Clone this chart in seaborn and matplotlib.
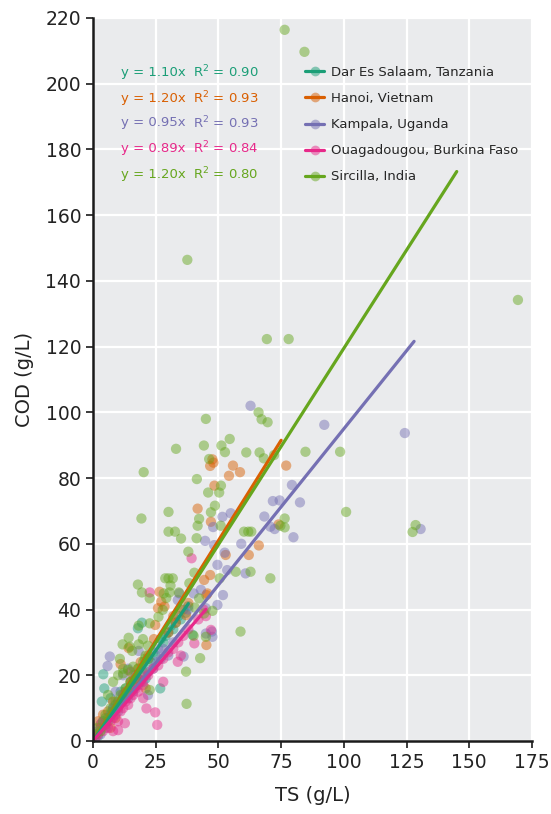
import pandas as pd
import matplotlib.pyplot as plt
import seaborn as sns
from matplotlib.lines import Line2D

# (TS, COD) pairs in g/L
dar = [(1, 2), (2, 1.5), (3, 5), (3.5, 12), (4.1, 20.3), (4.5, 16), (5, 7), (6, 6), (7, 13), (7.5, 9),
       (8, 10), (9, 11), (10, 12), (11, 15), (12, 13), (13, 16), (14, 14), (15, 18), (16, 17), (17, 20),
       (17.9, 34.3), (18, 19), (19.5, 36), (20, 22), (21, 19), (22, 25), (23, 24), (24, 27), (25, 26),
       (26.8, 16), (27, 31), (28, 30), (29, 32), (30, 33), (31, 35), (32, 34), (33, 36), (34, 38),
       (35, 37), (36, 40), (37, 39), (38, 41), (39.7, 32.3)]

hanoi = [(2, 6), (3, 4), (4, 8), (5, 5), (6, 9), (7, 4), (8, 12), (9, 7), (10, 10), (11, 23.4),
         (12, 14), (13, 15), (14.2, 28.3), (15, 18), (16, 17), (18, 22), (19, 24), (20, 21), (21, 16),
         (22, 26), (24.3, 31), (24.8, 35.3), (25.9, 40.4), (26.5, 45.4), (27.2, 42.4), (28.5, 40.9),
         (30, 33), (32, 38), (33, 36), (35, 40), (37.1, 38.3), (38, 42), (41.7, 70.7), (44.3, 49),
         (45.2, 44.4), (45.2, 29.2), (45.6, 44.9), (46.7, 50.5), (47, 66.7), (47.6, 85.7), (46.7, 83.7),
         (48, 84.7), (48.4, 77.7), (52.9, 56.6), (55.8, 83.8), (58.6, 81.8), (54.2, 80.7), (62.1, 56.6),
         (66.1, 59.5), (74, 65.9), (77, 83.8)]

kampala = [(1, 1), (2, 3), (3, 2), (4, 6), (5, 4), (5.8, 22.8), (6.7, 25.7), (7, 8), (8, 10), (9, 15),
           (10, 9), (11, 12), (12, 20), (12, 14), (14, 13), (14, 22), (15, 16), (16, 15), (18, 17),
           (18.2, 27.4), (19, 20), (20, 18), (21.9, 14), (22, 21), (24, 22), (25, 24), (26, 28), (27, 25),
           (28, 28), (30, 26), (32, 30), (33.8, 42.9), (34.4, 44.9), (36.1, 25.7), (38, 40), (40.1, 44.9),
           (43, 46), (44.7, 60.9), (45, 40.4), (45, 32.7), (47.4, 33.3), (47.6, 31.7), (47.9, 65.1),
           (48.3, 59.6), (49.6, 53.6), (49.6, 41.4), (51.6, 68.2), (51.8, 44.4), (52.5, 57.3), (53.5, 52),
           (54.9, 69.3), (59.1, 60), (60.8, 51), (62.8, 102), (68.3, 68.3), (70.7, 65.2), (71.7, 73),
           (72.4, 64.5), (74.4, 73.2), (79.3, 77.9), (79.9, 62), (82.5, 72.6), (92.2, 96.2), (124.3, 93.7),
           (130.6, 64.5)]

ouaga = [(1, 1), (2, 2), (3, 4), (3.4, 5.5), (4, 3), (5, 5), (6, 4), (7, 6), (8, 3), (8, 7), (9, 8),
         (10, 3.3), (10, 6), (11, 9), (12, 10), (12.7, 5.4), (13, 12), (14, 11), (15, 13), (15, 21),
         (16, 14), (17, 16), (18, 15), (18, 19), (19, 18), (20, 17), (20, 13), (21.3, 9.9), (22, 20),
         (22.6, 45.2), (24, 22), (24.8, 8.7), (25.6, 4.9), (26, 23), (28, 25), (28, 18), (30, 27), (32, 28),
         (33.8, 24.1), (34, 30), (35, 26), (36, 32), (38, 34), (39.3, 55.6), (40.4, 29.7), (42, 37),
         (44, 40), (45, 38), (47, 33.8)]

sircilla = [(1, 2), (2, 4), (3, 3), (4, 6), (5, 8), (6, 7), (6, 14), (7, 10), (8, 9), (8, 18), (9, 12),
            (10, 11), (10, 20), (10.7, 25), (11, 14), (11.8, 29.4), (12, 13), (12, 20.6), (12, 22), (13, 16),
            (14, 15), (14, 21.6), (14.2, 31.4), (14.6, 28.7), (15, 18), (15.6, 27.4), (16, 20), (16, 22.6),
            (17, 19), (18, 22), (18.2, 35.1), (18.2, 29.4), (17.9, 47.6), (19.3, 67.7), (19.5, 45.2),
            (19.9, 31), (20, 24), (20.2, 81.8), (20.6, 25), (21, 26), (21.9, 29), (22, 25), (22.6, 43.4),
            (22.6, 35.8), (22.6, 15.5), (26.1, 37.8), (27.8, 39.9), (28.2, 44.9), (28.8, 49.5), (29.2, 43.5),
            (30.1, 49.5), (30.1, 69.7), (30.1, 63.7), (30.5, 45.2), (30.9, 47.3), (31.8, 49.5), (32.7, 63.7),
            (33.1, 88.9), (34.2, 45.2), (35.1, 61.6), (37.3, 11.3), (37.1, 21.1), (37.6, 146.4), (38, 57.6),
            (38.4, 48), (40.1, 32), (40.4, 51.2), (40.6, 40.6), (41.3, 61.7), (41.4, 79.7), (41.7, 65.5),
            (42.3, 67.6), (42.3, 43.4), (42.7, 25.2), (44.2, 89.9), (44.3, 38.8), (45, 98), (45, 31.7),
            (45.9, 75.6), (46.3, 85.8), (47, 69.6), (47.6, 39.6), (48.6, 71.6), (50.3, 75.6), (50.5, 49.5),
            (50.9, 65.5), (51, 77.7), (51.2, 89.9), (52.6, 87.9), (54.5, 91.9), (56.9, 51.5), (58.8, 33.3),
            (60.2, 63.7), (61.1, 87.8), (61.9, 63.7), (63.1, 63.7), (62.8, 51.5), (66, 100), (66.4, 87.8),
            (67.2, 97.9), (68.1, 86), (69.3, 122.3), (69.6, 97), (70.7, 49.5), (72.2, 87), (74.7, 65.5),
            (76.4, 65), (76.4, 67.7), (76.4, 216.4), (78, 122.3), (84.3, 209.7), (84.7, 88), (98.5, 88),
            (100.9, 69.7), (127.4, 63.6), (128.6, 65.7), (169.4, 134.2)]

sites = ["Dar Es Salaam, Tanzania", "Hanoi, Vietnam", "Kampala, Uganda",
         "Ouagadougou, Burkina Faso", "Sircilla, India"]
slope_labels = [1.10, 1.20, 0.95, 0.89, 1.20]
slopes = [1.10, 1.22, 0.95, 0.89, 1.195]
r2 = [0.90, 0.93, 0.93, 0.84, 0.80]
fit_end = [38, 75, 128, 45, 145]

rows = []
for site, pts in zip(sites, [dar, hanoi, kampala, ouaga, sircilla]):
    for ts, cod in pts:
        rows.append((site, ts, cod))
df = pd.DataFrame(rows, columns=["site", "TS", "COD"])

fit_rows = []
for site, m, xe in zip(sites, slopes, fit_end):
    fit_rows.append((site, 0, 0))
    fit_rows.append((site, xe, m * xe))
fit_df = pd.DataFrame(fit_rows, columns=["site", "TS", "COD"])

sns.set_theme(style="darkgrid")
plt.rcParams["font.family"] = ["DejaVu Sans"]
colors = sns.color_palette("Dark2", 5)
pal = dict(zip(sites, colors))

fig = plt.figure(figsize=(5.51, 8.14), dpi=100)
ax = fig.add_axes([0.1688, 0.0897, 0.7967, 0.8882])
ax.set_facecolor("#EAEBED")

sns.scatterplot(data=df, x="TS", y="COD", hue="site", palette=pal, s=55,
                alpha=0.48, edgecolor="none", legend=False, ax=ax)
# draw order of the fit lines: purple, orange, green, teal, pink on top
for i in [2, 1, 4, 0, 3]:
    sub = fit_df[fit_df["site"] == sites[i]]
    sns.lineplot(data=sub, x="TS", y="COD", color=colors[i], lw=2.3, ax=ax)

ax.set_xlim(0, 175)
ax.set_ylim(0, 220)
ax.set_xticks(range(0, 176, 25))
ax.set_yticks(range(0, 221, 20))
ax.grid(color="white", lw=1.6)
for s in ["top", "right"]:
    ax.spines[s].set_visible(False)
for s in ["left", "bottom"]:
    ax.spines[s].set_visible(True)
    ax.spines[s].set_color("#1a1a1a")
    ax.spines[s].set_linewidth(1.8)
ax.tick_params(axis="both", which="both", direction="out", length=5, width=1.2,
               color="#1a1a1a", labelsize=13.5, labelcolor="#222222", left=True, bottom=True)
ax.set_xlabel("TS (g/L)", fontsize=14, color="#222222", labelpad=10)
ax.set_ylabel("COD (g/L)", fontsize=14, color="#222222", labelpad=8)

ypos = [0.925, 0.889, 0.855, 0.820, 0.784]
for c, m, r, yp in zip(colors, slope_labels, r2, ypos):
    ax.text(0.064, yp, f"y = {m:.2f}x", color=c, fontsize=9.5, va="center", transform=ax.transAxes)
    ax.text(0.228, yp, f"R$^{{2}}$ = {r:.2f}", color=c, fontsize=9.5, va="center", transform=ax.transAxes)

handles = [Line2D([], [], color=c, lw=2.3, marker="o", markersize=7,
                  markerfacecolor=(*c, 0.5), markeredgecolor="none") for c in colors]
ax.legend(handles, sites, loc="upper left", bbox_to_anchor=(0.455, 0.95), frameon=False,
          fontsize=9.5, handlelength=1.5, handletextpad=0.5, labelspacing=0.99)

fig.savefig("out.png", dpi=100)
